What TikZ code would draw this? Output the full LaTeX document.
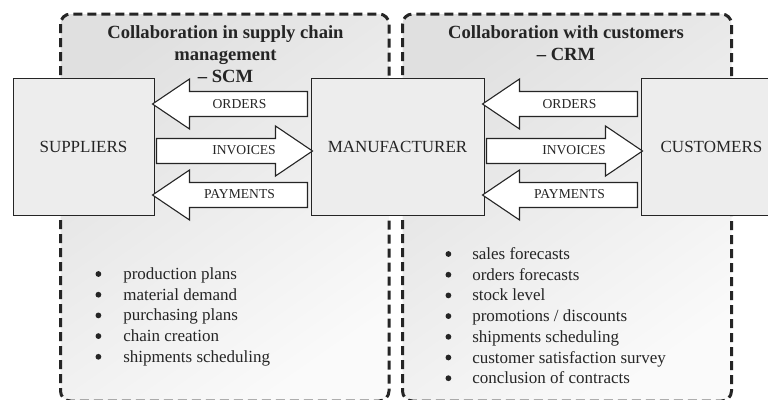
\documentclass[tikz,border=0pt]{standalone}
\usepackage{fontspec}
\setmainfont{Liberation Serif}
\usetikzlibrary{calc}

\definecolor{ink}{HTML}{252525}
\definecolor{boxfill}{HTML}{EDEDED}
\definecolor{areadark}{HTML}{E0E0E0}
\definecolor{arealight}{HTML}{FAFAFA}

\tikzset{
  area/.style={draw=ink, line width=3pt, dash pattern=on 9pt off 5pt,
    rounded corners=10pt, top color=areadark, bottom color=arealight,
    shading angle=35},
  party/.style={draw=ink, line width=1pt, fill=boxfill, text=ink,
    font=\fontsize{17}{20}\selectfont, inner sep=0pt,
    minimum height=137pt},
  blockarrow/.style={draw=ink, line width=1.1pt, fill=white, line join=miter},
  flowlabel/.style={font=\fontsize{13.6}{16}\selectfont, text=ink, inner sep=0pt},
  areatitle/.style={font=\fontsize{18.6}{22}\selectfont\bfseries, text=ink,
    align=center, inner sep=0pt, anchor=north},
  itemlist/.style={font=\fontsize{17}{20.7}\selectfont, text=ink,
    inner sep=0pt, anchor=base west},
}

% list bullet: a filled dot sitting at mid x-height
\newcommand\listdot{\tikz[baseline=0pt]\fill[ink] (0pt,5.5pt) circle[radius=2.9pt];}

% block arrow pointing left: tip at node #1 (east side), tail at node #2 (west side), row #3
\newcommand\leftflow[3]{%
  \draw[blockarrow] ($(#1.east |- #3)+(-2,0)$) -- ++(37,-25) -- ++(0,12.5)
    -- ($(#2.west |- #3)+(-3,-12.5)$) -- ++(0,25)
    -- ($(#1.east |- #3)+(35,12.5)$) -- ++(0,12.5) -- cycle;}
% block arrow pointing right: tail at node #1 (east side), tip at node #2 (west side), row #3
\newcommand\rightflow[3]{%
  \draw[blockarrow] ($(#2.west |- #3)+(2,0)$) -- ++(-37,-25) -- ++(0,12.5)
    -- ($(#1.east |- #3)+(2,-12.5)$) -- ++(0,25)
    -- ($(#2.west |- #3)+(-35,12.5)$) -- ++(0,12.5) -- cycle;}

\begin{document}
\begin{tikzpicture}[x=1pt, y=-1pt]
  \useasboundingbox (0,0) rectangle (768,399);
  \clip (0,0) rectangle (768,399);

  % collaboration areas
  \path[area] (60.5,14) rectangle (389,401);
  \path[area] (402.5,14) rectangle (731.5,401);

  \node[areatitle] (scmtitle) at (225.5,25.3)
    {Collaboration in supply chain\\management\\– SCM};
  \node[areatitle] (crmtitle) at (566,25.3)
    {Collaboration with customers\\– CRM};

  % partners
  \node[party, minimum width=141pt] (sup) at (83.5,146.5) {SUPPLIERS};
  \node[party, minimum width=173pt] (man) at (397.5,146.5) {MANUFACTURER};
  \node[party, minimum width=141pt] (cus) at (711.5,146.5) {CUSTOMERS};

  % rows of the flows
  \coordinate (rowA) at (0,104);
  \coordinate (rowB) at (0,151);
  \coordinate (rowC) at (0,195);

  % supplier side flows
  \leftflow{sup}{man}{rowA}
  \rightflow{sup}{man}{rowB}
  \leftflow{sup}{man}{rowC}
  \node[flowlabel] (scmorders) at (239.5,104) {ORDERS};
  \node[flowlabel] (scminvoices) at (244,150.5) {INVOICES};
  \node[flowlabel] (scmpayments) at (239.5,194) {PAYMENTS};

  % customer side flows
  \leftflow{man}{cus}{rowA}
  \rightflow{man}{cus}{rowB}
  \leftflow{man}{cus}{rowC}
  \node[flowlabel] (crmorders) at (569.5,104) {ORDERS};
  \node[flowlabel] (crminvoices) at (574,150.5) {INVOICES};
  \node[flowlabel] (crmpayments) at (569.5,194) {PAYMENTS};

  % shared information
  \node[itemlist] (scmlist) at (95.3,279.5) {%
    \begin{tabular}[t]{@{}l@{\hspace{22pt}}l@{}}
      \listdot & production plans\\
      \listdot & material demand\\
      \listdot & purchasing plans\\
      \listdot & chain creation\\
      \listdot & shipments scheduling
    \end{tabular}};
  \node[itemlist] (crmlist) at (445.3,259.5) {%
    \begin{tabular}[t]{@{}l@{\hspace{21pt}}l@{}}
      \listdot & sales forecasts\\
      \listdot & orders forecasts\\
      \listdot & stock level\\
      \listdot & promotions / discounts\\
      \listdot & shipments scheduling\\
      \listdot & customer satisfaction survey\\
      \listdot & conclusion of contracts
    \end{tabular}};
\end{tikzpicture}
\end{document}
